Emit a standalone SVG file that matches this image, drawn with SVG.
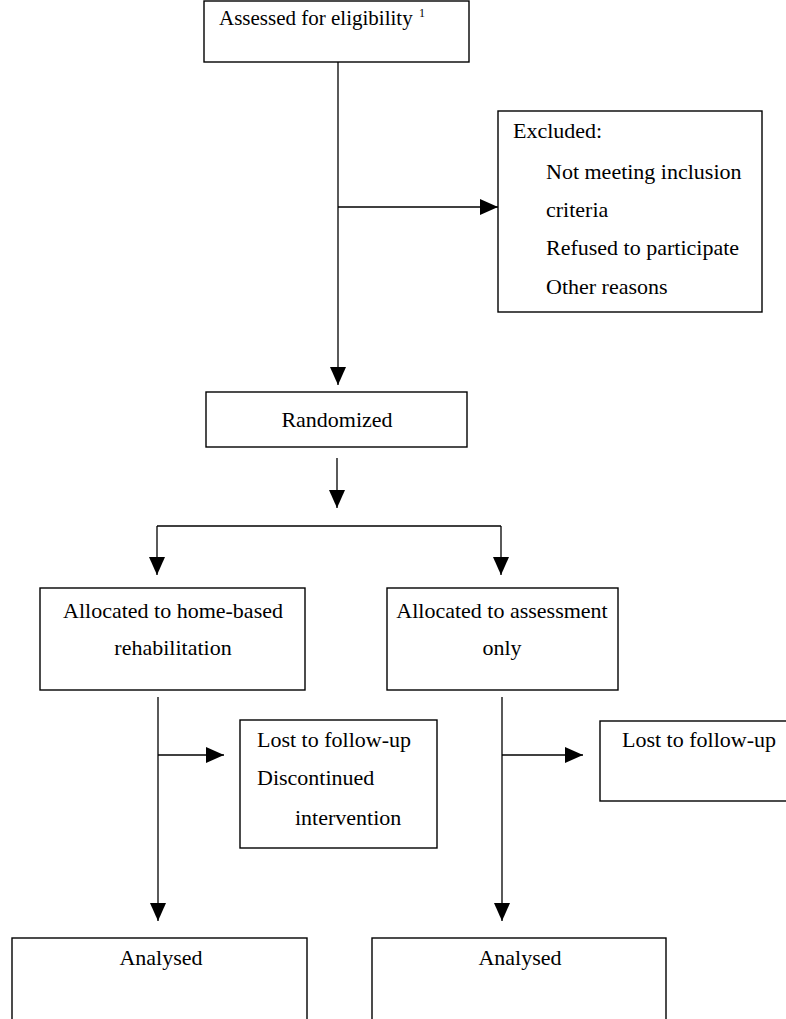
<svg xmlns="http://www.w3.org/2000/svg" width="786" height="1019" viewBox="0 0 786 1019">
<style>
.box{fill:#fff;stroke:#000;stroke-width:1.4}
.t{font-family:"Liberation Serif","Times New Roman",serif;font-size:22px;fill:#000}
.c{text-anchor:middle}
.ln{fill:none;stroke:#000;stroke-width:1.3}
</style>
<defs>
<marker id="ah" markerWidth="18" markerHeight="16" refX="18" refY="8" orient="auto" markerUnits="userSpaceOnUse">
<path d="M0,0 L18,8 L0,16 z" fill="#000"/>
</marker>
</defs>
<rect width="786" height="1019" fill="#fff"/>
<g id="connectors">
<path class="ln" d="M338,62 V385" marker-end="url(#ah)"/>
<path class="ln" d="M338,207 H498" marker-end="url(#ah)"/>
<path class="ln" d="M337,458 V508" marker-end="url(#ah)"/>
<path class="ln" d="M157,526 H501"/>
<path class="ln" d="M157,526 V575" marker-end="url(#ah)"/>
<path class="ln" d="M501,526 V575" marker-end="url(#ah)"/>
<path class="ln" d="M158,697 V921" marker-end="url(#ah)"/>
<path class="ln" d="M158,755 H224" marker-end="url(#ah)"/>
<path class="ln" d="M502,697 V921" marker-end="url(#ah)"/>
<path class="ln" d="M502,755 H583" marker-end="url(#ah)"/>
</g>
<g id="assessed">
<rect class="box" x="204" y="1" width="265" height="61"/>
<text class="t" x="219" y="25" style="font-size:21px">Assessed for eligibility</text>
<text class="t" x="419" y="17" style="font-size:12px">1</text>
</g>
<g id="excluded">
<rect class="box" x="498" y="111" width="264" height="201"/>
<text class="t" x="513" y="138">Excluded:</text>
<text class="t" x="546" y="179">Not meeting inclusion</text>
<text class="t" x="546" y="217">criteria</text>
<text class="t" x="546" y="255">Refused to participate</text>
<text class="t" x="546" y="294">Other reasons</text>
</g>
<g id="randomized">
<rect class="box" x="206" y="392" width="261" height="55"/>
<text class="t c" x="337" y="427">Randomized</text>
</g>
<g id="alloc-home">
<rect class="box" x="40" y="588" width="265" height="102"/>
<text class="t c" x="173" y="618">Allocated to home-based</text>
<text class="t c" x="173" y="655">rehabilitation</text>
</g>
<g id="alloc-assess">
<rect class="box" x="387" y="588" width="231" height="102"/>
<text class="t c" x="502" y="618">Allocated to assessment</text>
<text class="t c" x="502" y="655">only</text>
</g>
<g id="lost-home">
<rect class="box" x="240" y="720" width="197" height="128"/>
<text class="t" x="257" y="747">Lost to follow-up</text>
<text class="t" x="257" y="785">Discontinued</text>
<text class="t" x="295" y="825">intervention</text>
</g>
<g id="lost-assess">
<rect class="box" x="600" y="721" width="200" height="80"/>
<text class="t" x="622" y="747">Lost to follow-up</text>
</g>
<g id="analysed-home">
<rect class="box" x="12" y="938" width="295" height="100"/>
<text class="t c" x="161" y="965">Analysed</text>
</g>
<g id="analysed-assess">
<rect class="box" x="372" y="938" width="294" height="100"/>
<text class="t c" x="520" y="965">Analysed</text>
</g>
</svg>
